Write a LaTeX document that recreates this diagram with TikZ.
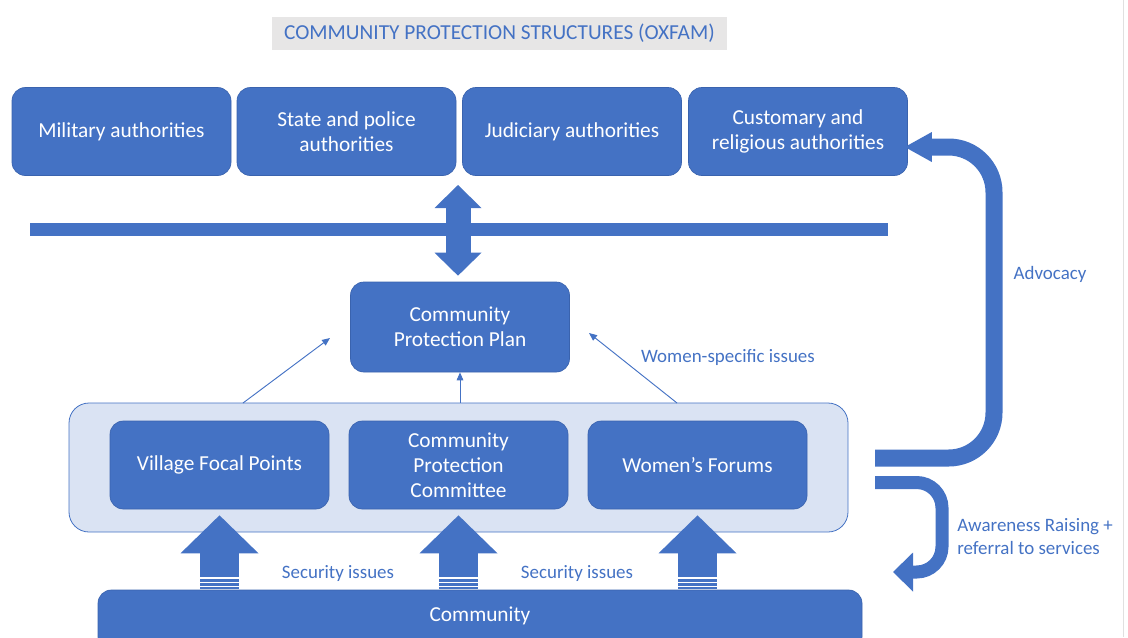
\documentclass[tikz,border=0pt]{standalone}
\usepackage{fontspec}
\setmainfont{Carlito}
\usetikzlibrary{arrows.meta}

\definecolor{oxblue}{HTML}{4472C4}
\definecolor{oxedge}{HTML}{3A63AE}
\definecolor{oxpale}{HTML}{DAE3F3}
\definecolor{oxgrey}{HTML}{E7E6E6}

\tikzset{
  box/.style={rectangle,rounded corners=10pt,fill=oxblue,draw=oxedge,line width=0.5pt,
    text=white,align=center,font=\fontsize{16}{18.75}\selectfont,
    minimum width=164.25pt,minimum height=66pt,inner sep=2pt},
  note/.style={text=oxblue,font=\fontsize{14.2}{17.25}\selectfont,align=left,inner sep=0pt},
  feed/.style={draw=oxblue,line width=0.7pt,-{Triangle[length=6pt,width=5pt]}},
  bigup/.style={draw=oxblue,line width=29.25pt,-{Triangle[length=28.5pt,width=58.5pt,line width=0pt]}},
  stripe/.style={draw=white,line width=1.2pt},
}

\begin{document}
\begin{tikzpicture}[x=0.75pt,y=-0.75pt]
  \useasboundingbox (0,0) rectangle (1128,637);
  \clip (0,0) rectangle (1128,637);
  \draw[black!12,line width=0.75pt] (1123,0) -- (1123,637);

  \node[fill=oxgrey,text=oxblue,font=\fontsize{16}{18}\selectfont,
    minimum width=341.25pt,minimum height=24.75pt] (title) at (499.5,33.5)
    {COMMUNITY PROTECTION STRUCTURES (OXFAM)};

  \node[box] (military)  at (121.5,131.5) {Military authorities};
  \node[box] (state)     at (346.5,131.5) {State and police\\authorities};
  \node[box] (judiciary) at (572,131.5)   {Judiciary authorities};
  \node[box] (customary) at (798,131.5)   {Customary and\\religious authorities};

  \node[fill=oxblue,minimum width=643.5pt,minimum height=9.75pt,inner sep=0pt] (divider) at (459,229.5) {};

  \node[box,minimum height=67.5pt] (plan) at (460,327) {Community\\Protection Plan};

  \node[rectangle,rounded corners=15pt,fill=oxpale,draw=oxblue,line width=0.6pt,
    minimum width=584.25pt,minimum height=96.75pt] (forum) at (458.5,467.5) {};
  \node[box] (focal)     at (219.5,465) {Village Focal Points};
  \node[box] (committee) at (458.5,465) {Community\\Protection\\Committee};
  \node[box] (women)     at (697.5,465) {Women’s Forums};

  \node[rectangle,rounded corners=10pt,fill=oxblue,draw=oxedge,line width=0.5pt,
    minimum width=573pt,minimum height=45pt] (community) at (480,620) {};
  \node[text=white,font=\fontsize{16}{18.75}\selectfont] (commtext) at (480,616) {Community};

  % plan <-> authorities
  \coordinate (dbltop) at (458,185);
  \draw[draw=oxblue,line width=18.75pt,shorten >=4.5pt,
    {Triangle[length=17.25pt,width=35.25pt,line width=0pt]}-{Triangle[length=17.25pt,width=35.25pt,line width=0pt]}]
    (dbltop) -- (plan.north -| dbltop);

  \coordinate (feedA) at (243,403);
  \coordinate (tipA)  at (330,338);
  \coordinate (feedB) at (forum.north -| plan.south);
  \coordinate (tipB)  at (plan.south);
  \coordinate (feedC) at (677,403);
  \coordinate (tipC)  at (589,333);
  \foreach \from/\to in {feedA/tipA,feedB/tipB,feedC/tipC}
    \draw[feed] (\from) -- (\to);

  \foreach \n in {focal,committee,women} {
    \draw[bigup,shorten <=0.75pt] (community.north -| \n.south) -- ([yshift=-4.5pt]\n.south);
    \foreach \s in {3,7.2,11.5}
      \draw[stripe] (community.north -| \n.south) ++(-19.5,-\s) -- ++(39,0);
  }

  % advocacy and awareness loops
  \coordinate (advstart) at (875,458);
  \coordinate (advbend)  at (994,147);
  \draw[oxblue,line width=12.75pt,rounded corners=34pt,shorten >=-2.25pt,
    -{Triangle[length=20.25pt,width=22.5pt,line width=0pt]}]
    (advstart) -| (advbend) -- (customary.east |- advbend);

  \coordinate (awstart) at (875,482.5);
  \coordinate (awbend)  at (942,572);
  \coordinate (awend)   at (893,572);
  \draw[oxblue,line width=9.75pt,rounded corners=19pt,
    -{Triangle[length=15pt,width=29.25pt,line width=0pt]}]
    (awstart) -| (awbend) -- (awend);

  \node[note] (advocacy)    at (1050,274) {Advocacy};
  \node[note] (womenissues) at (728,357)  {Women-specific issues};
  \node[note] (secA)        at (338,573)  {Security issues};
  \node[note] (secB)        at (577,573)  {Security issues};
  \node[note,anchor=west] (awareness) at (957,536.5) {Awareness Raising +\\referral to services};
\end{tikzpicture}
\end{document}
